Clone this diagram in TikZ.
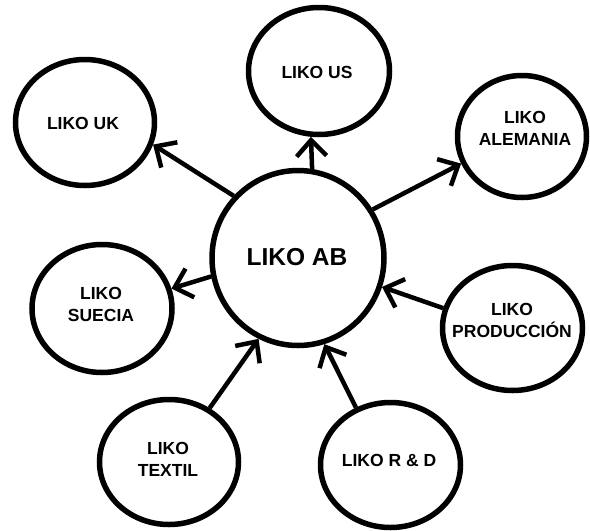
\documentclass[tikz,border=0pt]{standalone}
\usepackage{fontspec}
\setmainfont{Liberation Sans}
\usetikzlibrary{shapes.geometric,arrows.meta}
\tikzset{
  bubble/.style={draw=black, line width=5.5pt, ellipse, inner sep=0pt},
  lbl/.style={font=\bfseries\fontsize{17.5}{22}\selectfont, align=center, inner sep=0pt},
  biglbl/.style={font=\bfseries\fontsize{24.5}{28}\selectfont, align=center, inner sep=0pt},
  link/.style={line width=4.5pt, -{Straight Barb[length=16pt,width=30pt]}}
}
\begin{document}
\begin{tikzpicture}[x=1pt,y=-1pt]
\useasboundingbox (0,0) rectangle (590,531);
% bubbles
\node[bubble, minimum width=172pt, minimum height=175pt] (ab) at (298,258) {};
\node[bubble, minimum width=139pt, minimum height=126pt] (uk) at (85,122.5) {};
\node[bubble, minimum width=141pt, minimum height=127pt] (us) at (319,71) {};
\node[bubble, minimum width=129pt, minimum height=122pt] (ale) at (522,136.5) {};
\node[bubble, minimum width=140pt, minimum height=128pt] (sue) at (102,308.5) {};
\node[bubble, minimum width=139pt, minimum height=125pt] (tex) at (169,462) {};
\node[bubble, minimum width=140pt, minimum height=125pt] (prod) at (512.5,328) {};
\node[bubble, minimum width=140pt, minimum height=125pt] (rd) at (390.5,465) {};
% labels
\node[biglbl] (abt) at (297,257) {LIKO AB};
\node[lbl] (ukt) at (83,123) {LIKO UK};
\node[lbl] (ust) at (317,72) {LIKO US};
\node[lbl] (alet) at (525,128) {LIKO\\ALEMANIA};
\node[lbl] (suet) at (101,304) {LIKO\\SUECIA};
\node[lbl] (text) at (168,459) {LIKO\\TEXTIL};
\node[lbl] (prodt) at (512,320) {LIKO\\PRODUCCIÓN};
\node[lbl] (rdt) at (389,460) {LIKO R \& D};
% connectors
\draw[link] (ab.136) -- (uk.-18);
\draw[link] (ab.81.5) -- (us.263);
\draw[link] (ab.33.7) -- (ale.204);
\draw[link] (ab.192.6) -- (sue.16.7);
\draw[link] (tex.53.3) -- (ab.244.3);
\draw[link] (prod.164) -- (ab.-19.2);
\draw[link] (rd.121.6) -- (ab.-73.5);
\end{tikzpicture}
\end{document}
